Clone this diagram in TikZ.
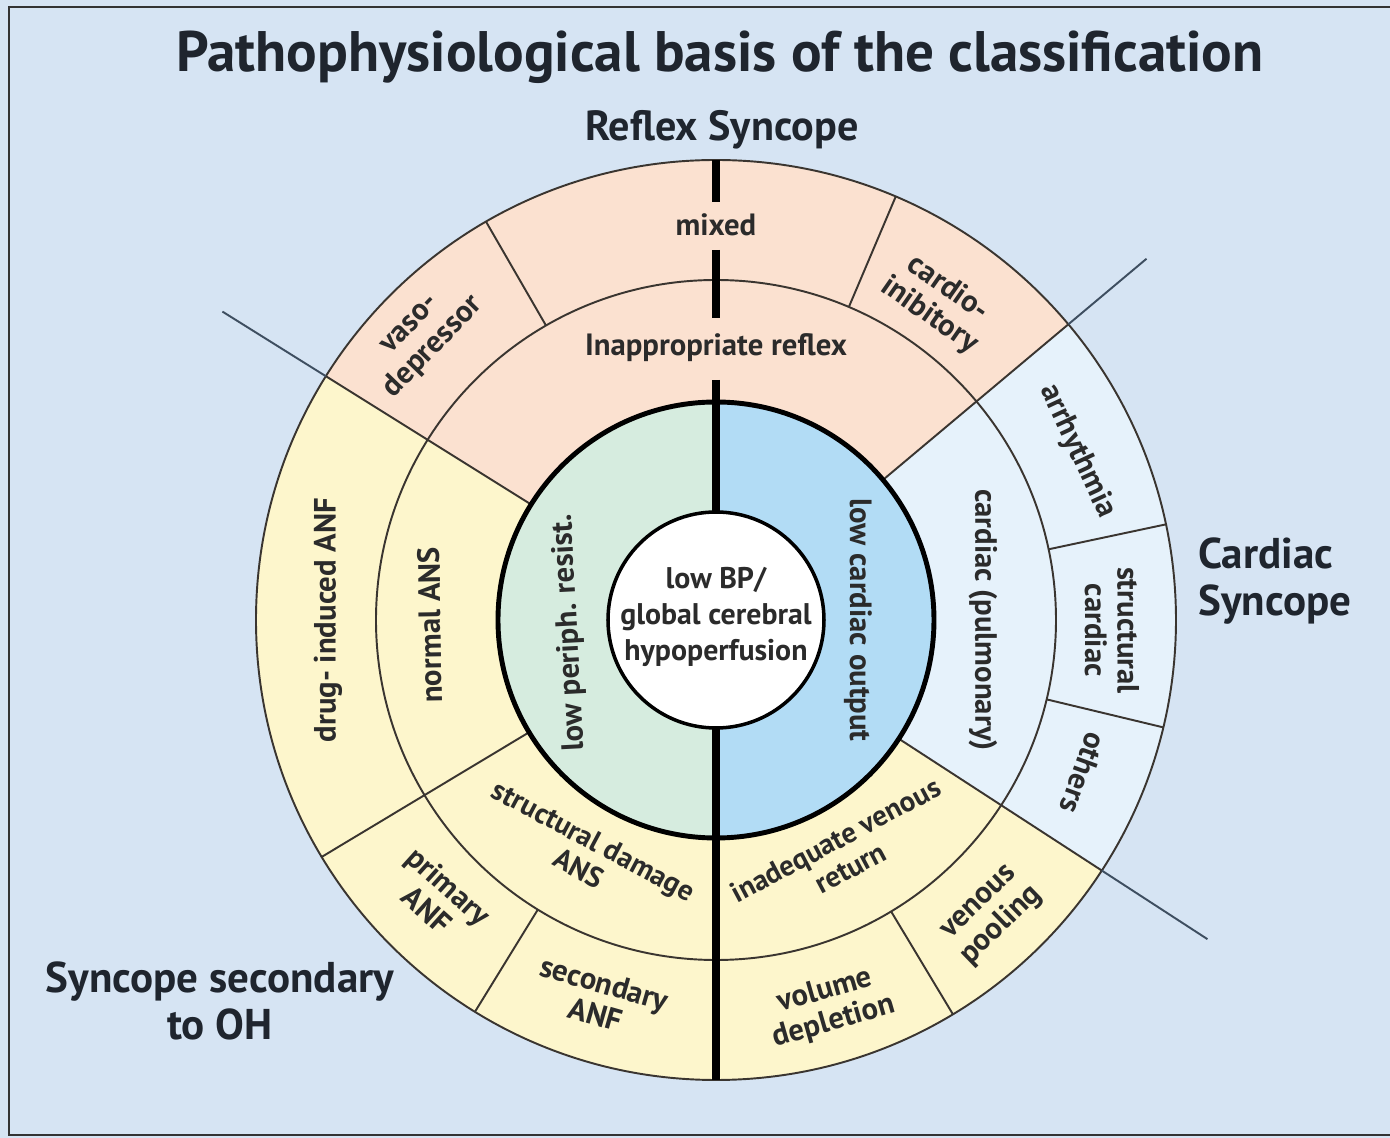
\documentclass[tikz,border=0pt]{standalone}
\usepackage{fontspec}
\setmainfont{PT Sans}
\usepackage{tikz}
\usetikzlibrary{positioning}
\definecolor{bgblue}{HTML}{D6E4F3}
\definecolor{reflexpink}{HTML}{FBE1D0}
\definecolor{ohyellow}{HTML}{FDF6CC}
\definecolor{cardblue}{HTML}{E6F2FB}
\definecolor{periphgreen}{HTML}{D6ECDF}
\definecolor{outputblue}{HTML}{B2DCF5}
\definecolor{inkgray}{HTML}{2B2B2B}
\definecolor{inknavy}{HTML}{1F252E}
\definecolor{linegray}{HTML}{3A3530}
\definecolor{slate}{HTML}{3E4E60}
\definecolor{framegray}{HTML}{333333}

\begin{document}
\begin{tikzpicture}[
    x=0.02cm, y=0.02cm,
    ringtext/.style={font=\bfseries\fontsize{17.5}{18.5}\selectfont, text=inkgray, align=center, inner sep=0pt},
    smallring/.style={ringtext, font=\bfseries\fontsize{16.5}{18}\selectfont},
    headtext/.style={font=\bfseries\fontsize{24.5}{27}\selectfont, text=inknavy, align=center, inner sep=0pt},
    ringline/.style={draw=linegray, line width=1.1pt},
    extline/.style={draw=slate, line width=1.1pt},
    axisline/.style={line width=4pt, black},
  ]
  % Frame
  \useasboundingbox (-716,-518) rectangle (674,620);
  \fill[bgblue] (-716,-518) rectangle (674,620);
  \draw[framegray, line width=1.5pt] (674,613) -- (-707,613) -- (-707,-515) -- (674,-515);
  % Sectors
  \foreach \a/\b/\c in {40/148/reflexpink, -33/40/cardblue, 148/327/ohyellow}
    \fill[\c] (\a:218) arc[start angle=\a, end angle=\b, radius=218]
      -- (\b:460) arc[start angle=\b, end angle=\a, radius=460] -- cycle;
  \fill[periphgreen] (90:218) arc[start angle=90, end angle=270, radius=218] -- cycle;
  \fill[outputblue] (-90:218) arc[start angle=-90, end angle=90, radius=218] -- cycle;
  % Rings
  \draw[ringline] (0,0) circle[radius=460];
  \draw[ringline] (0,0) circle[radius=340];
  \foreach \a/\ri in {148/218, 40/218, -33/218, 211/218, 120/340, 67/340, 12/340, -13.5/340, -59/340, 238.4/340}
    \draw[ringline] (\a:\ri) -- (\a:460);
  \foreach \a/\ro in {148/582, 40/562, -33/586}
    \draw[extline] (\a:460) -- (\a:\ro);
  % Axis
  \draw[axisline] (0,460) -- (0,418);
  \draw[axisline] (0,370) -- (0,302);
  \draw[axisline] (0,240) -- (0,-460);
  \draw[line width=2.8pt] (0,0) circle[radius=218];
  \draw[line width=2pt, fill=white] (0,0) circle[radius=108];
  % Headings
  \node[headtext, font=\bfseries\fontsize{32.5}{35}\selectfont] (title) at (4,563) {Pathophysiological basis of the classification};
  \node[headtext, font=\bfseries\fontsize{24}{27}\selectfont] (reflex) at (6,490) {Reflex Syncope};
  \node[headtext, align=left, anchor=west] (cardiac) at (482,39) {Cardiac\\Syncope};
  \node[headtext] (oh) at (-496,-381) {Syncope secondary\\to OH};
  % Centre and inner ring
  \node[ringtext, font=\bfseries\fontsize{17}{20.5}\selectfont] (bp) at (0,3) {low BP/\\global cerebral\\hypoperfusion};
  \node[ringtext, rotate=93] (periph) at (185:147) {low periph. resist.};
  \node[ringtext, rotate=-90] (output) at (0:142) {low cardiac output};
  % Middle ring
  \node[ringtext] (inapp) at (90:272) {Inappropriate reflex};
  \node[ringtext, rotate=-90] (pulm) at (0:267) {cardiac (pulmonary)};
  \node[smallring, rotate=28] (venret) at (-61.5:266) {inadequate venous\\return};
  \node[smallring, rotate=-28] (damage) at (-119:268) {structural damage\\ANS};
  \node[ringtext, rotate=91] (normal) at (181:286) {normal ANS};
  % Outer ring
  \node[ringtext, rotate=46] (vaso) at (136:407) {vaso-\\depressor};
  \node[ringtext] (mixed) at (90:395) {mixed};
  \node[ringtext, rotate=-35] (cardio) at (55:388) {cardio-\\inibitory};
  \node[ringtext, rotate=-65] (arrhy) at (25:399) {arrhythmia};
  \node[ringtext, rotate=-90] (struct) at (-1.5:396) {structural\\cardiac};
  \node[ringtext, rotate=-110] (others) at (-22.6:398) {others};
  \node[ringtext, rotate=44] (pooling) at (-47:404) {venous\\pooling};
  \node[ringtext, rotate=16] (volume) at (-73.6:403) {volume\\depletion};
  \node[ringtext, rotate=-16] (second) at (-107:396) {secondary\\ANF};
  \node[ringtext, rotate=-42] (primary) at (-135:393) {primary\\ANF};
  \node[ringtext, rotate=90] (drug) at (180:388) {drug- induced ANF};
\end{tikzpicture}
\end{document}
